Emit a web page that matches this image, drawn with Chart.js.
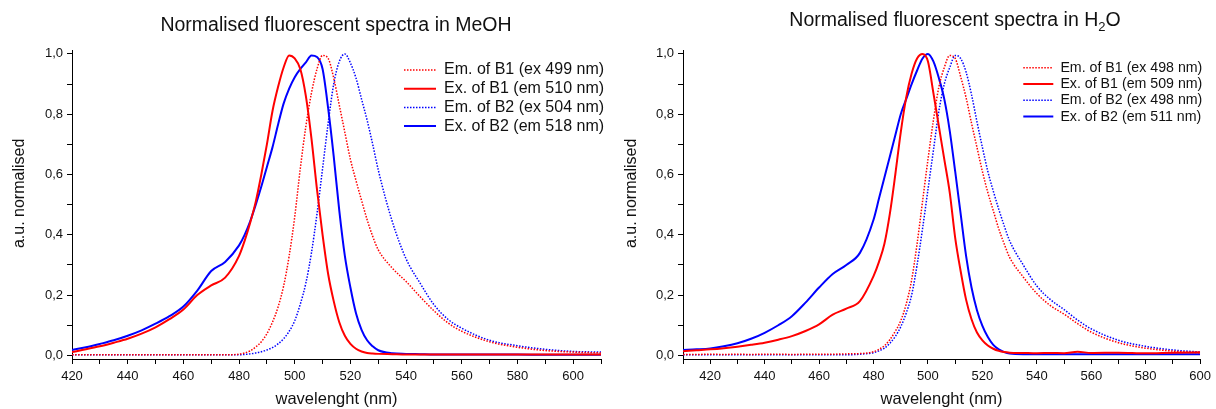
<!DOCTYPE html>
<html>
<head>
<meta charset="utf-8">
<script src="https://cdn.jsdelivr.net/npm/chart.js@4.4.1/dist/chart.umd.min.js"></script>
<style>
  html, body { margin: 0; padding: 0; background: #fff; }
  body { width: 1216px; height: 409px; position: relative; overflow: hidden;
         font-family: 'Liberation Sans', Arial, sans-serif; }
  .panel { position: absolute; top: 0; width: 608px; height: 409px; }
  .title { position: absolute; font-size: 19.5px; line-height: 24px; color: #111;
           white-space: nowrap; transform: translateX(-50%); }
  .title sub { font-size: 13px; line-height: 0; vertical-align: -5px; }
</style>
</head>
<body>
<div class="panel" style="left:0"><canvas id="meoh" width="608" height="409"></canvas></div>
<div class="panel" style="left:608px"><canvas id="water" width="608" height="409"></canvas></div>
<div class="title" style="left:336px; top:12px">Normalised fluorescent spectra in MeOH</div>
<div class="title" style="left:955px; top:7px">Normalised fluorescent spectra in H<sub>2</sub>O</div>
<script>
// wavelengths (nm) for the MeOH panel
const wlMeoh = [420, 425, 430, 435, 440, 445, 450, 455, 460, 465, 470, 475, 480,
  482, 484, 486, 488, 490, 492, 494, 496, 498, 500, 502, 504, 506, 508, 510,
  512, 514, 516, 518, 520, 522, 524, 526, 528, 530,
  535, 540, 545, 550, 555, 560, 570, 580, 590, 600, 610];

const emB1Meoh = [0.002, 0.002, 0.002, 0.002, 0.002, 0.002, 0.002, 0.002, 0.002, 0.002, 0.002, 0.002, 0.004,
  0.008, 0.015, 0.028, 0.045, 0.072, 0.11, 0.16, 0.23, 0.33, 0.46, 0.62, 0.76, 0.87, 0.95, 0.995,
  0.985, 0.92, 0.83, 0.74, 0.65, 0.58, 0.514, 0.45, 0.395, 0.35,
  0.29, 0.245, 0.195, 0.148, 0.108, 0.08, 0.045, 0.027, 0.016, 0.011, 0.008];

const exB1Meoh = [0.011, 0.02, 0.03, 0.042, 0.055, 0.072, 0.093, 0.12, 0.152, 0.2, 0.232, 0.258, 0.33,
  0.38, 0.44, 0.51, 0.6, 0.7, 0.81, 0.89, 0.955, 0.995, 0.985, 0.95, 0.86, 0.72, 0.55, 0.4,
  0.27, 0.18, 0.11, 0.065, 0.038, 0.022, 0.013, 0.008, 0.006, 0.005,
  0.004, 0.003, 0.003, 0.003, 0.003, 0.003, 0.003, 0.003, 0.003, 0.003, 0.003];

const emB2Meoh = [0.002, 0.002, 0.002, 0.002, 0.002, 0.002, 0.002, 0.002, 0.002, 0.002, 0.002, 0.002, 0.002,
  0.003, 0.005, 0.008, 0.012, 0.018, 0.026, 0.038, 0.055, 0.08, 0.115, 0.17, 0.24, 0.34, 0.47, 0.62,
  0.77, 0.9, 0.975, 1.0, 0.97, 0.92, 0.85, 0.78, 0.7, 0.615,
  0.445, 0.32, 0.24, 0.168, 0.12, 0.09, 0.05, 0.032, 0.02, 0.013, 0.011];

const exB2Meoh = [0.018, 0.027, 0.038, 0.05, 0.065, 0.083, 0.105, 0.13, 0.162, 0.215, 0.28, 0.31, 0.365,
  0.4, 0.445, 0.5, 0.56, 0.625, 0.69, 0.765, 0.835, 0.885, 0.923, 0.95, 0.972, 0.995, 0.99, 0.95,
  0.82, 0.66, 0.48, 0.33, 0.225, 0.14, 0.085, 0.05, 0.03, 0.017,
  0.007, 0.005, 0.004, 0.003, 0.003, 0.003, 0.003, 0.003, 0.002, 0.002, 0.002];

// wavelengths (nm) for the water panel
const wlWater = [410, 415, 420, 425, 430, 435, 440, 445, 450, 455, 460, 465, 470, 475, 480,
  482, 484, 486, 488, 490, 492, 494, 496, 498, 500, 502, 504, 506, 508, 510,
  512, 514, 516, 518, 520, 522, 524, 526, 528, 530,
  535, 540, 545, 550, 555, 560, 570, 580, 590, 600];

const emB1Water = [0.003, 0.003, 0.004, 0.003, 0.004, 0.003, 0.004, 0.004, 0.003, 0.004, 0.004, 0.004, 0.005, 0.006, 0.012,
  0.02, 0.032, 0.052, 0.08, 0.115, 0.17, 0.25, 0.37, 0.51, 0.65, 0.78, 0.89, 0.955, 0.995, 0.985,
  0.925, 0.855, 0.77, 0.69, 0.61, 0.54, 0.48, 0.42, 0.37, 0.325,
  0.26, 0.205, 0.165, 0.137, 0.105, 0.077, 0.042, 0.024, 0.014, 0.008];

const exB1Water = [0.014, 0.017, 0.02, 0.024, 0.029, 0.035, 0.042, 0.052, 0.064, 0.081, 0.103, 0.135, 0.155, 0.18, 0.263,
  0.31, 0.37, 0.47, 0.6, 0.74, 0.855, 0.935, 0.985, 1.0, 0.975, 0.87, 0.76, 0.65, 0.54, 0.39,
  0.28, 0.185, 0.12, 0.076, 0.05, 0.033, 0.022, 0.015, 0.011, 0.009,
  0.008, 0.007, 0.008, 0.007, 0.012, 0.008, 0.009, 0.007, 0.009, 0.01];

const emB2Water = [0.002, 0.002, 0.002, 0.002, 0.002, 0.002, 0.002, 0.002, 0.002, 0.002, 0.002, 0.002, 0.002, 0.004, 0.009,
  0.015, 0.024, 0.04, 0.063, 0.095, 0.14, 0.2, 0.3, 0.42, 0.55, 0.68, 0.81, 0.9, 0.955, 0.995,
  0.985, 0.94, 0.865, 0.775, 0.69, 0.61, 0.545, 0.485, 0.43, 0.38,
  0.3, 0.23, 0.185, 0.152, 0.117, 0.088, 0.05, 0.03, 0.018, 0.011];

const exB2Water = [0.018, 0.02, 0.023, 0.03, 0.04, 0.055, 0.075, 0.1, 0.13, 0.175, 0.225, 0.27, 0.3, 0.34, 0.45,
  0.52, 0.59, 0.66, 0.73, 0.8, 0.85, 0.9, 0.945, 0.985, 1.0, 0.975, 0.92, 0.85, 0.745, 0.61,
  0.47, 0.33, 0.225, 0.15, 0.098, 0.061, 0.035, 0.02, 0.011, 0.006,
  0.004, 0.004, 0.004, 0.004, 0.004, 0.004, 0.004, 0.004, 0.004, 0.004];

const labelsMeoh = ['Em. of B1 (ex 499 nm)', 'Ex. of B1 (em 510 nm)', 'Em. of B2 (ex 504 nm)', 'Ex. of B2 (em 518 nm)'];
const labelsWater = ['Em. of B1 (ex 498 nm)', 'Ex. of B1 (em 509 nm)', 'Em. of B2 (ex 498 nm)', 'Ex. of B2 (em 511 nm)'];

const xTickLabels = [420, 440, 460, 480, 500, 520, 540, 560, 580, 600];
const yTickLabels = ['0,0', '0,2', '0,4', '0,6', '0,8', '1,0'];

const RED = '#ff0000';
const BLUE = '#0000ff';
const FONT = "'Liberation Sans', Arial, sans-serif";

Chart.defaults.font.family = FONT;
Chart.defaults.color = '#111';

function series(label, wl, ys, color, dotted) {
  return {
    label: label,
    data: wl.map((x, i) => ({ x: x, y: ys[i] })),
    borderColor: color,
    backgroundColor: color,
    borderWidth: dotted ? 1.5 : 2,
    borderDash: dotted ? [1.5, 1.5] : [],
    pointRadius: 0,
    cubicInterpolationMode: 'monotone',
    fill: false
  };
}

// legend samples: take dash and width from the dataset line, not the point
function lineLabels(chart) {
  return Chart.defaults.plugins.legend.labels.generateLabels(chart).map((it) => {
    const ds = chart.data.datasets[it.datasetIndex];
    it.lineDash = ds.borderDash;
    it.lineWidth = ds.borderWidth;
    it.strokeStyle = ds.borderColor;
    it.pointStyle = 'line';
    return it;
  });
}

// moves the chartArea legend to a fixed spot inside the plot
const placeLegend = {
  id: 'placeLegend',
  afterLayout(chart, args, opts) {
    const lg = chart.legend;
    lg.left = opts.x;
    lg.top = opts.y;
    lg.right = opts.x + lg.width;
    lg.bottom = opts.y + lg.height;
  }
};

function makeChart(id, p) {
  return new Chart(document.getElementById(id), {
    type: 'line',
    data: { datasets: p.datasets },
    options: {
      responsive: false,
      animation: false,
      devicePixelRatio: 1,
      layout: { padding: { top: 50, right: p.padRight, left: 0, bottom: 0 } },
      plugins: {
        legend: {
          position: 'chartArea',
          align: 'start',
          labels: {
            usePointStyle: true,
            pointStyle: 'line',
            pointStyleWidth: p.boxWidth,
            padding: p.legendPad,
            color: '#111',
            font: { size: p.legendSize },
            generateLabels: lineLabels
          }
        },
        tooltip: { enabled: false },
        placeLegend: { x: p.legendX, y: p.legendY }
      },
      scales: {
        x: {
          type: 'linear',
          min: p.xMin,
          max: p.xMax,
          afterFit: (s) => { s.height = 50; },
          border: { color: '#000', width: 1 },
          grid: { drawOnChartArea: false, tickLength: 5, tickColor: '#000' },
          ticks: {
            stepSize: 10,
            autoSkip: false,
            maxRotation: 0,
            padding: 5,
            color: '#111',
            font: { size: 13 },
            callback: (v) => (xTickLabels.includes(v) ? String(v) : '')
          },
          title: {
            display: true,
            text: 'wavelenght (nm)',
            color: '#111',
            font: { size: 16.5 },
            padding: { top: 0, bottom: 0 }
          }
        },
        y: {
          min: -0.012,
          max: 1.013,
          afterFit: (s) => { s.width = p.yWidth; },
          border: { color: '#000', width: 1 },
          grid: { drawOnChartArea: false, tickLength: 5, tickColor: '#000' },
          ticks: {
            stepSize: 0.1,
            includeBounds: false,
            autoSkip: false,
            padding: 4,
            color: '#111',
            font: { size: 13 },
            callback: (v) => {
              const n = Math.round(v * 10);
              return n % 2 === 0 ? yTickLabels[n / 2] : '';
            }
          },
          title: {
            display: true,
            // leading spaces lift the rotated title a little above the axis middle
            text: '     a.u. normalised',
            color: '#111',
            font: { size: 16 },
            padding: { top: p.yTitlePad, bottom: 0 }
          }
        }
      }
    },
    plugins: [placeLegend]
  });
}

makeChart('meoh', {
  datasets: [
    series(labelsMeoh[0], wlMeoh, emB1Meoh, RED, true),
    series(labelsMeoh[1], wlMeoh, exB1Meoh, RED, false),
    series(labelsMeoh[2], wlMeoh, emB2Meoh, BLUE, true),
    series(labelsMeoh[3], wlMeoh, exB2Meoh, BLUE, false)
  ],
  xMin: 420, xMax: 610,
  padRight: 7, yWidth: 72, yTitlePad: 9.5,
  legendX: 401.3, legendY: 59.3, legendPad: 2.7, legendSize: 16, boxWidth: 32
});

makeChart('water', {
  datasets: [
    series(labelsWater[0], wlWater, emB1Water, RED, true),
    series(labelsWater[1], wlWater, exB1Water, RED, false),
    series(labelsWater[2], wlWater, emB2Water, BLUE, true),
    series(labelsWater[3], wlWater, exB2Water, BLUE, false)
  ],
  xMin: 410, xMax: 600,
  padRight: 8.6, yWidth: 75, yTitlePad: 14,
  legendX: 413.2, legendY: 58.5, legendPad: 2.1, legendSize: 14.2, boxWidth: 30
});
</script>
</body>
</html>
